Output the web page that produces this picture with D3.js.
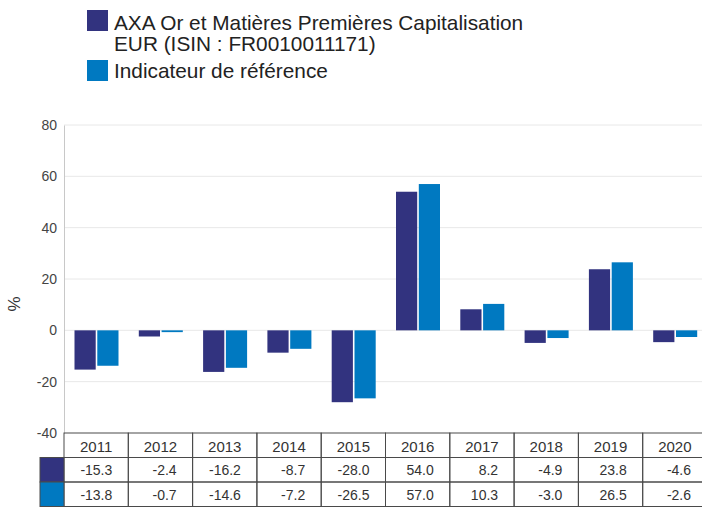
<!DOCTYPE html>
<html>
<head>
<meta charset="utf-8">
<script src="https://cdn.jsdelivr.net/npm/d3@7"></script>
<style>
  body { margin: 0; background: #fff; }
  svg { display: block; font-family: "Liberation Sans", Arial, sans-serif; }
</style>
</head>
<body>
<div id="chart"></div>
<script>
const years = ['2011', '2012', '2013', '2014', '2015', '2016', '2017', '2018', '2019', '2020'];
const legendLines = ['AXA Or et Matières Premières Capitalisation', 'EUR (ISIN : FR0010011171)'];
const benchName = 'Indicateur de référence';
const fundValues = [-15.3, -2.4, -16.2, -8.7, -28.0, 54.0, 8.2, -4.9, 23.8, -4.6];
const benchValues = [-13.8, -0.7, -14.6, -7.2, -26.5, 57.0, 10.3, -3.0, 26.5, -2.6];
const yTicks = [-40, -20, 0, 20, 40, 60, 80];
const colors = ['#32337f', '#0079c1'];

const width = 702;
const height = 507;
const plot = { left: 64, right: 707, top: 125, bottom: 433 };
const rowH = 24.5;

const svg = d3.select('#chart').append('svg')
  .attr('width', width)
  .attr('height', height);

const x = d3.scaleBand().domain(years).range([plot.left, plot.right]);
const xSub = d3.scaleBand().domain([0, 1]).range([10.5, 54.5]).paddingInner(0.07);
const y = d3.scaleLinear().domain([-40, 80]).range([plot.bottom, plot.top]);

// gridlines
svg.append('g')
  .selectAll('line')
  .data(yTicks.filter(t => t > -40))
  .join('line')
  .attr('x1', plot.left)
  .attr('x2', width)
  .attr('y1', d => y(d))
  .attr('y2', d => y(d))
  .attr('stroke', '#e8e8e8')
  .attr('stroke-width', 1);

// y axis (plain hyphen for negatives, like the original)
const yAxis = d3.axisLeft(y).tickValues(yTicks).tickSize(0).tickPadding(7).tickFormat(d => String(d));
const yAxisG = svg.append('g')
  .attr('transform', `translate(${plot.left},0)`)
  .call(yAxis);
yAxisG.select('.domain').attr('stroke', '#c8c8c8');
yAxisG.selectAll('text')
  .attr('font-size', 14)
  .attr('fill', '#444')
  .attr('font-family', '"Liberation Sans", Arial, sans-serif');

svg.append('text')
  .attr('transform', 'translate(20, 304) rotate(-90)')
  .attr('text-anchor', 'middle')
  .attr('font-size', 17)
  .attr('fill', '#333')
  .text('%');

// bars
const series = [fundValues, benchValues];
series.forEach((vals, si) => {
  svg.append('g')
    .selectAll('rect')
    .data(years.map((yr, i) => ({ yr, v: vals[i] })))
    .join('rect')
    .attr('x', d => x(d.yr) + xSub(si))
    .attr('width', xSub.bandwidth())
    .attr('y', d => y(Math.max(0, d.v)))
    .attr('height', d => Math.max(1, Math.abs(y(d.v) - y(0))))
    .attr('fill', colors[si]);
});

// table
const table = svg.append('g');
const lineColor = '#4a4a4a';
years.forEach(yr => {
  for (let r = 0; r < 3; r++) {
    table.append('rect')
      .attr('x', x(yr))
      .attr('y', plot.bottom + r * rowH)
      .attr('width', x.bandwidth())
      .attr('height', rowH)
      .attr('fill', 'none')
      .attr('stroke', lineColor)
      .attr('stroke-width', 1);
  }
});
table.selectAll('.yr')
  .data(years)
  .join('text')
  .attr('x', d => x(d) + x.bandwidth() / 2)
  .attr('y', plot.bottom + rowH - 6)
  .attr('text-anchor', 'middle')
  .attr('font-size', 15)
  .attr('fill', '#333')
  .text(d => d);
series.forEach((vals, si) => {
  table.append('rect')
    .attr('x', 40)
    .attr('y', plot.bottom + (si + 1) * rowH)
    .attr('width', plot.left - 40)
    .attr('height', rowH)
    .attr('fill', colors[si])
    .attr('stroke', lineColor);
  table.append('g')
    .selectAll('text')
    .data(years.map((yr, i) => ({ yr, v: vals[i] })))
    .join('text')
    .attr('x', d => x(d.yr) + x.bandwidth() - 16)
    .attr('y', plot.bottom + (si + 2) * rowH - 7)
    .attr('text-anchor', 'end')
    .attr('font-size', 14)
    .attr('fill', '#333')
    .text(d => d.v.toFixed(1));
});

// legend
const legend = svg.append('g');
legend.append('rect').attr('x', 87).attr('y', 10).attr('width', 21).attr('height', 21).attr('fill', colors[0]);
legend.append('rect').attr('x', 87).attr('y', 60).attr('width', 21).attr('height', 21).attr('fill', colors[1]);
const lt = legend.append('text').attr('font-size', 20.8).attr('fill', '#222');
lt.append('tspan').attr('x', 114).attr('y', 30).text(legendLines[0]);
lt.append('tspan').attr('x', 114).attr('y', 51).text(legendLines[1]);
legend.append('text').attr('x', 114).attr('y', 78).attr('font-size', 20.8).attr('fill', '#222').text(benchName);
</script>
</body>
</html>
